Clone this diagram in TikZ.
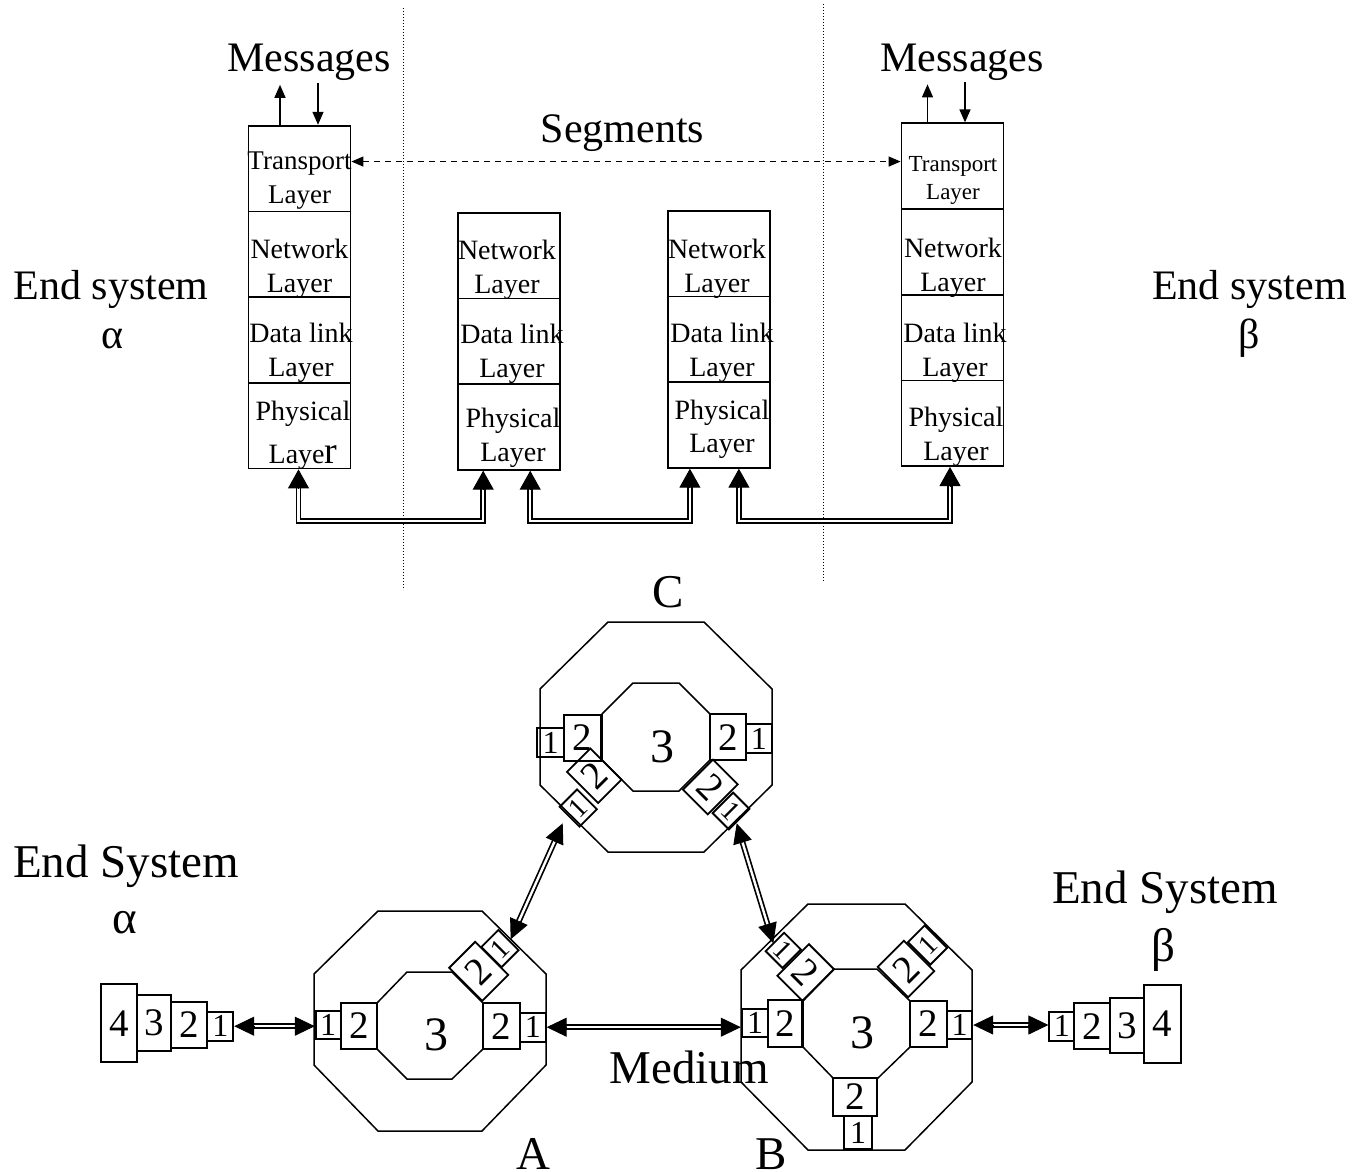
\documentclass[tikz,border=0pt]{standalone}
\usepackage{fontspec}
\setmainfont{Liberation Serif}
\usetikzlibrary{arrows.meta,calc}
\newcommand\fsz[2]{\fontsize{#1}{#2}\selectfont}
% double connector with a solid triangular head at both ends
\newcommand\dblarrow[2]{%
  \draw[dbl, shorten <=18pt, shorten >=18pt] (#1) -- (#2);
  \draw[tipb] ($(#1)!20pt!(#2)$) -- (#1);
  \draw[tipb] ($(#2)!20pt!(#1)$) -- (#2);}
\begin{document}
\begin{tikzpicture}[x=1pt,y=-1pt,
  lyr/.style={draw, line width=1.8pt, minimum width=102pt, minimum height=85.7pt, inner sep=0pt},
  ltxt/.style={align=center, inner sep=0pt, font=\fsz{28}{34}},
  nbox/.style 2 args={draw, line width=1.8pt, inner sep=0pt, minimum width=#1pt, minimum height=#2pt},
  two/.style={font=\fsz{39}{39}},
  one/.style={font=\fsz{32}{32}},
  onesm/.style={font=\fsz{28}{28}},
  three/.style={font=\fsz{48}{48}, inner sep=0pt},
  oct/.style={line width=1.5pt, line join=miter},
  big/.style={font=\fsz{42}{48}, inner sep=0pt, anchor=base},
  large/.style={font=\fsz{47}{54}, inner sep=0pt, anchor=base},
  msg/.style={line width=1.4pt, -{Triangle[width=11pt,length=13pt]}},
  seg/.style={line width=1.4pt, dash pattern=on 6pt off 5pt,
    {Triangle[width=10pt,length=12pt]}-{Triangle[width=10pt,length=12pt]}},
  dbl/.style={double, double distance=2.4pt, line width=1.7pt},
  tipa/.style={line width=1pt, -{Triangle[width=21pt,length=19pt]}},
  tipb/.style={line width=1pt, -{Triangle[width=19pt,length=20pt]}},
  sep/.style={line width=1pt, dash pattern=on 1pt off 2pt}]

\useasboundingbox (0,0) rectangle (1354,1172);

% ---------------- upper part: layer stacks ----------------
\draw[sep] (403,8) -- (403,590);
\draw[sep] (823,4) -- (823,582);

% end system alpha
\node[lyr] (LT) at (299.5,168.55) {};
\node[lyr] (LN) at (299.5,254.25) {};
\node[lyr] (LD) at (299.5,339.95) {};
\node[lyr] (LP) at (299.5,425.65) {};
\node[ltxt, font=\fsz{27}{34}] (tLT) at (299.5,181) {Transport\\Layer};
\node[ltxt] (tLN) at (299.5,268.5) {Network\\Layer};
\node[ltxt] (tLD) at (301,352.5) {Data link\\Layer};
\node[ltxt, font=\fsz{28}{43}] (tLP) at (303,435.5) {Physical\\Laye{\fsz{38}{38}r}};

% first intermediate system
\node[lyr] (MN) at (509.2,255.55) {};
\node[lyr] (MD) at (509.2,341.25) {};
\node[lyr] (MP) at (509.2,426.95) {};
\node[ltxt] (tMN) at (507,270) {Network\\Layer};
\node[ltxt] (tMD) at (512,353.5) {Data link\\Layer};
\node[ltxt] (tMP) at (513,438) {Physical\\Layer};

% second intermediate system
\node[lyr] (NN) at (718.9,253.55) {};
\node[lyr] (ND) at (718.9,339.25) {};
\node[lyr] (NP) at (718.9,424.95) {};
\node[ltxt] (tNN) at (717,268.5) {Network\\Layer};
\node[ltxt] (tND) at (722,352.5) {Data link\\Layer};
\node[ltxt, font=\fsz{28}{33}] (tNP) at (722,429.5) {Physical\\Layer};

% end system beta
\node[lyr] (RT) at (952.5,166.15) {};
\node[lyr] (RN) at (952.5,251.85) {};
\node[lyr] (RD) at (952.5,337.55) {};
\node[lyr] (RP) at (952.5,423.25) {};
\node[ltxt, font=\fsz{23}{28}] (tRT) at (953,180.5) {Transport\\Layer};
\node[ltxt] (tRN) at (953,268) {Network\\Layer};
\node[ltxt] (tRD) at (955,352.5) {Data link\\Layer};
\node[ltxt] (tRP) at (956,436.5) {Physical\\Layer};

% labels
\node[big] (msgL) at (309,71) {Messages};
\node[big] (msgR) at (962,71) {Messages};
\node[big] (segs) at (622.5,142) {Segments};
\node[big] (esL) at (111,299) {End system};
\node[big] (alL) at (113,348) {α};
\node[big] (esR) at (1249.5,299) {End system};
\node[big] (beR) at (1249,348) {β};

% message arrows
\draw[msg] ([xshift=-19.5pt]LT.north) -- ++(0,-40);
\draw[msg] ([xshift=18.5pt]LT.north) ++(0,-42) -- ([xshift=18.5pt]LT.north);
\draw[msg] ([xshift=-25pt]RT.north) -- ++(0,-38);
\draw[msg] ([xshift=12.5pt]RT.north) ++(0,-40) -- ([xshift=12.5pt]RT.north);

% peer-to-peer segment exchange
\draw[seg] ([yshift=7pt]LT.east) -- ([yshift=7pt]LT.east -| RT.west);

% physical medium links
\coordinate (bus) at (0,521);
\coordinate (p1a) at ([xshift=-1pt]LP.south);
\coordinate (p1b) at ([xshift=-26pt]MP.south);
\coordinate (p2a) at ([xshift=21pt]MP.south);
\coordinate (p2b) at ([xshift=-29pt]NP.south);
\coordinate (p3a) at ([xshift=20pt]NP.south);
\coordinate (p3b) at ([xshift=-2.5pt]RP.south);
\foreach \u/\v in {p1a/p1b, p2a/p2b, p3a/p3b}{
  \draw[dbl] ([yshift=-18pt]\u) -- (\u |- bus) -| ([yshift=-18pt]\v);
  \draw[tipa] ([yshift=-19pt]\u) -- (\u);
  \draw[tipa] ([yshift=-19pt]\v) -- (\v);
}

% ---------------- lower part: network of systems ----------------
% system C
\draw[oct] (608,622) -- (704,622) -- (772,689) -- (772,785) -- (704,852) -- (608,852) -- (540,785) -- (540,689) -- cycle;
\draw[oct] (633,683) -- (679,683) -- (710,714) -- (710,760) -- (679,791) -- (633,791) -- (602,760) -- (602,714) -- cycle;
\node[three] (C3) at (662,747) {3};
\node[nbox={27.3}{29}, one] (C1L) at (550.7,742.8) {1};
\node[nbox={36.7}{45.7}, two] (C2L) at (582.7,737.8) {2};
\node[nbox={36}{45.7}, two] (C2R) at (728,737.2) {2};
\node[nbox={25.7}{29}, one] (C1R) at (758.8,738.8) {1};
\node[nbox={33}{44}, rotate=45, two] (C2LL) at (594.2,775.7) {2};
\node[nbox={24.6}{28}, rotate=45, onesm] (C1LL) at (578.3,808) {1};
\node[nbox={35}{42.5}, rotate=-45, two] (C2LR) at (710.4,787) {2};
\node[nbox={23}{29}, rotate=-45, onesm] (C1LR) at (731,811) {1};
\node[large] (lC) at (668,607) {C};

% system A
\draw[oct] (378,911) -- (482,911) -- (546,974) -- (546,1065) -- (482,1131) -- (378,1131) -- (314,1065) -- (314,974) -- cycle;
\draw[oct] (407,972) -- (452,972) -- (483,1003) -- (483,1049) -- (452,1079) -- (407,1079) -- (377,1049) -- (377,1003) -- cycle;
\node[three] (A3) at (436,1035) {3};
\node[nbox={25}{28.3}, one] (A1L) at (328.2,1025.2) {1};
\node[nbox={36.6}{46.6}, two] (A2L) at (359,1026) {2};
\node[nbox={37.3}{45.7}, two] (A2R) at (501.3,1026.2) {2};
\node[nbox={25.7}{29}, one] (A1R) at (532.9,1027.2) {1};
\node[nbox={36.8}{46.7}, rotate=45, two] (A2d) at (478.7,971.3) {2};
\node[nbox={24}{28.5}, rotate=45, onesm] (A1d) at (500,948.6) {1};
\node[large] (lA) at (533,1169) {A};

% system B
\draw[oct] (808,904) -- (905,904) -- (972,970) -- (972,1082) -- (905,1150) -- (808,1150) -- (741,1082) -- (741,970) -- cycle;
\draw[oct] (834,969) -- (877,969) -- (910,1001) -- (910,1047) -- (878,1078) -- (833,1078) -- (803,1047) -- (803,1001) -- cycle;
\node[three] (B3) at (862.7,1032.5) {3};
\node[nbox={26.6}{28}, one] (B1L) at (755,1023.3) {1};
\node[nbox={34}{46.7}, two] (B2L) at (785.3,1023.3) {2};
\node[nbox={36.7}{46}, two] (B2R) at (928.3,1023.7) {2};
\node[nbox={25.6}{28.6}, one] (B1R) at (959.5,1025) {1};
\node[nbox={43.4}{38.3}, two] (B2B) at (855,1096.8) {2};
\node[nbox={28.3}{33.3}, one] (B1B) at (858.2,1132.7) {1};
\node[nbox={35.4}{44.6}, rotate=-45, two] (B2UL) at (805.7,972.5) {2};
\node[nbox={23.7}{26}, rotate=-45, onesm] (B1UL) at (783.3,950.4) {1};
\node[nbox={37}{43}, rotate=45, two] (B2UR) at (906,969) {2};
\node[nbox={23.7}{31.8}, rotate=45, onesm] (B1UR) at (927.5,945) {1};
\node[large] (lB) at (771.5,1169) {B};

% end system alpha
\node[nbox={36.6}{78}, two] (E4) at (119,1023.3) {4};
\node[nbox={33.7}{56}, two] (E3) at (154.2,1023) {3};
\node[nbox={36.3}{45.4}, two] (E2) at (189.2,1025) {2};
\node[nbox={26}{29}, one] (E1) at (220.3,1026.2) {1};
\node[large] (esA) at (126,877) {End System};
\node[large] (esAa) at (125,933) {α};

% end system beta
\node[nbox={25}{29}, one] (F1) at (1061.8,1026.2) {1};
\node[nbox={35.7}{46}, two] (F2) at (1092.2,1026.3) {2};
\node[nbox={34}{55}, two] (F3) at (1127,1025.8) {3};
\node[nbox={36.7}{77.7}, two] (F4) at (1162.3,1023.8) {4};
\node[large] (esB) at (1165,903) {End System};
\node[large] (esBb) at (1163,961) {β};

\node[large] (med) at (689,1083) {Medium};

% links between systems
\coordinate (k1a) at (E1.east);
\coordinate (k1b) at (E1.east -| A1L.west);
\coordinate (k2a) at (A1R.east);
\coordinate (k2b) at (A1R.east -| B1L.west);
\coordinate (k3a) at (B1R.east);
\coordinate (k3b) at (B1R.east -| F1.west);
\coordinate (k4a) at ([shift={(10.7,-9.3)}]A1d.center);
\coordinate (k4b) at ([shift={(-15.6,15.3)}]C1LL.center);
\coordinate (k5a) at ([shift={(5.7,12.3)}]C1LR.center);
\coordinate (k5b) at ([shift={(-10,-7.1)}]B1UL.center);
\dblarrow{k1a}{k1b}
\dblarrow{k2a}{k2b}
\dblarrow{k3a}{k3b}
\dblarrow{k4a}{k4b}
\dblarrow{k5a}{k5b}
\end{tikzpicture}
\end{document}
